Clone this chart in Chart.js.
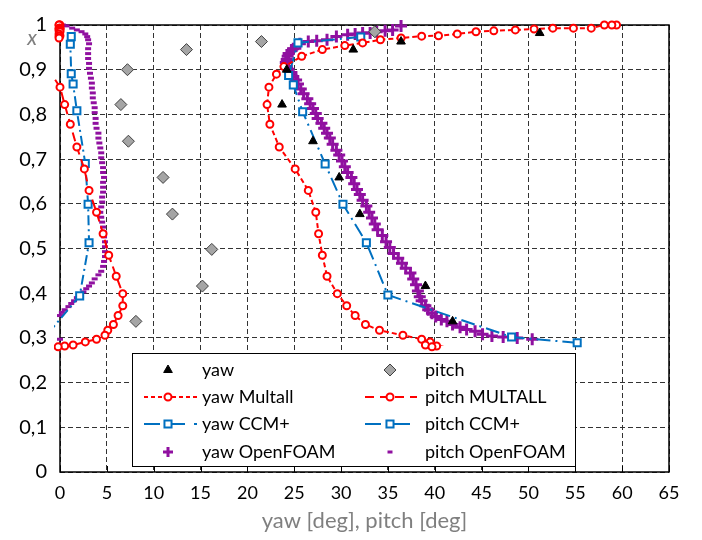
<!DOCTYPE html>
<html>
<head>
<meta charset="utf-8">
<script src="https://cdn.jsdelivr.net/npm/chart.js@4.4.1/dist/chart.umd.min.js"></script>
<style>
  html, body { margin: 0; padding: 0; background: #fff; }
  canvas { display: block; }
</style>
</head>
<body>
<canvas id="profileChart" width="702" height="540"></canvas>
<script>
// Measured angles (deg) against spanwise position x
const yawExpDeg = [51.2, 36.4, 31.3, 24.2, 23.7, 27.0, 29.8, 32.0, 39.0, 41.9];
const yawExpX   = [0.982, 0.963, 0.945, 0.900, 0.822, 0.740, 0.659, 0.577, 0.416, 0.337];

const pitchExpDeg = [33.6, 21.5, 13.5, 7.2, 6.5, 7.3, 11.0, 12.0, 16.2, 15.2, 8.1];
const pitchExpX   = [0.985, 0.963, 0.945, 0.900, 0.822, 0.740, 0.659, 0.577, 0.498, 0.416, 0.337];

// Multall profiles
const multallX = [1.0, 1.0, 1.0, 0.993, 0.993, 0.993, 0.991, 0.989, 0.987, 0.985, 0.980, 0.976,
                  0.975, 0.971, 0.967, 0.960, 0.954, 0.945, 0.930, 0.907, 0.890, 0.861, 0.822,
                  0.778, 0.727, 0.678, 0.630, 0.581, 0.533, 0.485, 0.438, 0.399, 0.372, 0.350,
                  0.330, 0.317, 0.306, 0.297, 0.291, 0.284, 0.282, 0.280];
const yawMultall = [59.4, 58.9, 58.1, 56.7, 54.8, 52.6, 50.6, 48.6, 46.3, 44.4, 42.4, 40.4,
                    38.6, 36.4, 34.2, 32.3, 30.4, 28.0, 25.8, 23.9, 23.1, 22.3, 22.1,
                    22.4, 23.4, 25.1, 26.5, 27.3, 27.6, 28.0, 28.5, 29.6, 30.6, 31.5,
                    32.6, 34.1, 36.6, 38.6, 39.5, 39.0, 40.2, 39.7];
const pitchMultall = [-0.1, 0.0, -0.1, 0.0, -0.1, 0.0, -0.1, 0.0, -0.1, 0.0, -0.1, 0.0,
                      -0.1, -0.1, -0.9, -1.2, -1.3, -1.4, -1.2, -1.0, -0.9, 0.0, 0.5,
                      1.1, 1.8, 2.6, 3.1, 3.9, 4.6, 5.2, 6.0, 6.7, 6.7, 6.2,
                      5.7, 5.1, 4.8, 3.9, 2.7, 1.4, 0.5, -0.2];

// CCM+ profiles
const ccmYawX   = [0.973, 0.960, 0.887, 0.866, 0.806, 0.689, 0.599, 0.513, 0.396, 0.302, 0.289];
const ccmYaw    = [32.1, 25.4, 24.4, 24.9, 25.9, 28.3, 30.2, 32.7, 35.0, 48.2, 55.2];
const ccmPitchX = [0.974, 0.957, 0.891, 0.868, 0.808, 0.690, 0.599, 0.513, 0.394, 0.302, 0.289];
const ccmPitch  = [1.2, 1.1, 1.2, 1.4, 1.8, 2.7, 3.0, 3.1, 2.1, -1.6, -2.2];

// OpenFOAM yaw profile
const ofYawX = [0.998, 0.989, 0.987, 0.985, 0.982, 0.982, 0.980, 0.978, 0.974, 0.967, 0.965, 0.963,
                0.958, 0.954, 0.947, 0.943, 0.936, 0.930, 0.923, 0.916, 0.907, 0.901, 0.894, 0.885,
                0.877, 0.868, 0.857, 0.846, 0.835, 0.824, 0.813, 0.802, 0.791, 0.780, 0.769, 0.758,
                0.747, 0.733, 0.720, 0.709, 0.696, 0.683, 0.670, 0.659, 0.645, 0.632, 0.621, 0.608,
                0.595, 0.581, 0.568, 0.555, 0.542, 0.529, 0.515, 0.502, 0.489, 0.478, 0.467, 0.456,
                0.445, 0.432, 0.419, 0.405, 0.392, 0.383, 0.372, 0.363, 0.355, 0.348, 0.341, 0.337,
                0.330, 0.324, 0.319, 0.315, 0.308, 0.304, 0.302, 0.300, 0.297];
const ofYaw  = [36.4, 35.5, 34.7, 33.8, 33.1, 32.3, 31.5, 30.7, 29.5, 28.5, 27.4, 26.5,
                25.6, 25.2, 24.9, 24.7, 24.4, 24.3, 24.2, 24.1, 24.2, 24.4, 24.7, 24.9,
                25.2, 25.4, 25.7, 26.0, 26.4, 26.7, 27.0, 27.3, 27.5, 27.9, 28.2, 28.5,
                28.8, 29.1, 29.5, 29.8, 30.1, 30.4, 30.7, 31.1, 31.4, 31.7, 32.0, 32.3,
                32.7, 33.0, 33.3, 33.6, 33.9, 34.4, 34.8, 35.2, 35.6, 36.1, 36.5, 36.9,
                37.4, 37.7, 38.0, 38.2, 38.4, 38.6, 39.0, 39.3, 39.7, 40.1, 40.7, 41.3,
                41.9, 42.7, 43.4, 44.3, 45.1, 46.1, 47.3, 48.8, 50.4];

// OpenFOAM pitch profile
const ofPitchX = [1.0, 0.998, 0.993, 0.989, 0.985, 0.980, 0.974, 0.967, 0.958, 0.947, 0.936, 0.925,
                  0.914, 0.903, 0.892, 0.881, 0.870, 0.859, 0.848, 0.837, 0.826, 0.815, 0.804, 0.791,
                  0.780, 0.769, 0.758, 0.747, 0.736, 0.725, 0.714, 0.703, 0.692, 0.681, 0.670, 0.659,
                  0.648, 0.637, 0.626, 0.615, 0.604, 0.593, 0.581, 0.570, 0.559, 0.548, 0.537, 0.526,
                  0.515, 0.504, 0.493, 0.482, 0.471, 0.460, 0.449, 0.441, 0.432, 0.423, 0.416, 0.410,
                  0.403, 0.396, 0.390, 0.383, 0.377, 0.370, 0.363, 0.357, 0.350, 0.297];
const ofPitch  = [0.3, 0.7, 1.3, 1.8, 2.3, 2.7, 2.9, 3.0, 3.1, 3.0, 3.0, 3.0,
                  3.1, 3.1, 3.2, 3.3, 3.4, 3.4, 3.5, 3.5, 3.6, 3.7, 3.7, 3.8,
                  3.8, 3.9, 4.1, 4.1, 4.2, 4.3, 4.4, 4.4, 4.5, 4.6, 4.6, 4.7,
                  4.6, 4.6, 4.6, 4.5, 4.5, 4.4, 4.3, 4.4, 4.5, 4.6, 4.7, 4.7,
                  4.8, 4.8, 4.8, 4.8, 4.7, 4.6, 4.4, 4.1, 3.7, 3.4, 3.1, 2.8,
                  2.5, 2.1, 1.8, 1.5, 1.2, 0.9, 0.5, 0.2, 0.0, 0.0];

const xTicks = { min: 0, max: 65, step: 5 };
const yTicks = { min: 0, max: 1, step: 0.1 };

const RED = '#ff0000';
const BLUE = '#0070c0';
const PURPLE = '#9010a0';
const FONT = 'Lato, "Open Sans", sans-serif';

function pts(xs, ys) {
    return xs.map((v, i) => ({ x: v, y: ys[i] }));
}

const datasets = [
    {
        label: 'yaw',
        data: pts(yawExpDeg, yawExpX),
        pointStyle: 'triangle', pointRadius: 5,
        backgroundColor: '#000', borderColor: '#000', borderWidth: 1,
        legendCol: 0, legendRow: 0
    },
    {
        label: 'pitch',
        data: pts(pitchExpDeg, pitchExpX),
        pointStyle: 'rectRot', pointRadius: 6,
        backgroundColor: '#a5a5a5', borderColor: '#404040', borderWidth: 1,
        legendCol: 1, legendRow: 0
    },
    {
        label: 'yaw Multall',
        data: pts(yawMultall, multallX),
        showLine: true, borderDash: [5, 3],
        pointStyle: 'circle', pointRadius: 3.5,
        backgroundColor: '#fff', borderColor: RED, borderWidth: 2,
        legendDash: [4, 3], legendCol: 0, legendRow: 1
    },
    {
        label: 'pitch MULTALL',
        data: pts(pitchMultall, multallX),
        showLine: true, borderDash: [9, 5],
        pointStyle: 'circle', pointRadius: 3.5,
        backgroundColor: '#fff', borderColor: RED, borderWidth: 2,
        legendDash: [9, 6], legendCol: 1, legendRow: 1
    },
    {
        label: 'yaw CCM+',
        data: pts(ccmYaw, ccmYawX),
        showLine: true, borderDash: [14, 5, 2, 5],
        pointStyle: 'rect', pointRadius: 5,
        backgroundColor: '#fff', borderColor: BLUE, borderWidth: 2,
        legendDash: [16, 9], legendCol: 0, legendRow: 2
    },
    {
        label: 'pitch CCM+',
        data: pts(ccmPitch, ccmPitchX),
        showLine: true, borderDash: [10, 4, 2, 4],
        pointStyle: 'rect', pointRadius: 5,
        backgroundColor: '#fff', borderColor: BLUE, borderWidth: 2,
        legendDash: [16, 7, 2, 4], legendCol: 1, legendRow: 2
    },
    {
        label: 'yaw OpenFOAM',
        data: pts(ofYaw, ofYawX),
        pointStyle: 'cross', pointRadius: 6,
        backgroundColor: PURPLE, borderColor: PURPLE, borderWidth: 3,
        legendCol: 0, legendRow: 3
    },
    {
        label: 'pitch OpenFOAM',
        data: pts(ofPitch, ofPitchX),
        pointStyle: 'line', pointRadius: 3,
        backgroundColor: PURPLE, borderColor: PURPLE, borderWidth: 3,
        legendCol: 1, legendRow: 3
    }
];
// markers may spill a few pixels past the frame, values further out stay hidden
datasets.forEach(ds => {
    ds.clip = { left: 6, top: 8, right: 8, bottom: 8 };
    ds.pointHoverRadius = ds.pointRadius;
});

function tickText(v) {
    if (Math.abs(v) < 1e-9) return '0';
    if (Math.abs(v - 1) < 1e-9) return '1';
    return v.toFixed(1).replace('.', ',');
}

// frame, axis titles, in-plot legend and bottom tick marks
const decor = {
    id: 'decor',
    beforeDatasetsDraw(chart) {
        const { ctx, chartArea: a } = chart;
        ctx.save();
        ctx.strokeStyle = '#000';
        ctx.lineWidth = 1.5;
        ctx.strokeRect(a.left, a.top, a.right - a.left, a.bottom - a.top);
        ctx.restore();
    },
    afterDraw(chart) {
        const { ctx, chartArea: a, scales } = chart;
        ctx.save();

        // axis titles
        ctx.fillStyle = '#7f7f7f';
        ctx.font = '22px ' + FONT;
        ctx.textAlign = 'center';
        ctx.textBaseline = 'middle';
        ctx.fillText('yaw [deg], pitch [deg]', (a.left + a.right) / 2, 521);
        ctx.font = 'italic 21px ' + FONT;
        ctx.fillText('x', 32, 38);

        // legend box
        const box = { l: 132, t: 353, r: 575, b: 466 };
        ctx.fillStyle = '#fff';
        ctx.fillRect(box.l, box.t, box.r - box.l, box.b - box.t);
        ctx.strokeStyle = '#000';
        ctx.lineWidth = 1;
        ctx.strokeRect(box.l + 0.5, box.t + 0.5, box.r - box.l, box.b - box.t);

        const rows = [370, 397, 424, 452];
        const cols = [{ l: 144, m: 168, r: 197, t: 202 }, { l: 365, m: 390, r: 417, t: 425 }];
        chart.data.datasets.forEach(ds => {
            const c = cols[ds.legendCol];
            const y = rows[ds.legendRow];
            if (ds.showLine) {
                ctx.save();
                ctx.strokeStyle = ds.borderColor;
                ctx.lineWidth = ds.borderWidth;
                ctx.setLineDash(ds.legendDash);
                ctx.beginPath();
                ctx.moveTo(c.l, y);
                ctx.lineTo(c.r, y);
                ctx.stroke();
                ctx.restore();
            }
            ctx.save();
            ctx.fillStyle = ds.backgroundColor;
            ctx.strokeStyle = ds.borderColor;
            ctx.lineWidth = ds.borderWidth;
            const r = ds.pointStyle === 'cross' ? 5 : (ds.pointStyle === 'line' ? 2.5 : ds.pointRadius);
            Chart.helpers.drawPoint(ctx, { pointStyle: ds.pointStyle, radius: r, rotation: 0, borderWidth: ds.borderWidth }, c.m, y);
            ctx.restore();

            ctx.fillStyle = '#000';
            ctx.font = '18px ' + FONT;
            ctx.textAlign = 'left';
            ctx.textBaseline = 'middle';
            ctx.fillText(ds.label, c.t, y);
        });

        // inner tick marks on the bottom axis
        ctx.strokeStyle = '#000';
        ctx.lineWidth = 1;
        for (let v = xTicks.min; v <= xTicks.max; v += xTicks.step) {
            const px = Math.round(scales.x.getPixelForValue(v)) + 0.5;
            ctx.beginPath();
            ctx.moveTo(px, a.bottom);
            ctx.lineTo(px, a.bottom - 6);
            ctx.stroke();
        }
        ctx.restore();
    }
};

const ctx = document.getElementById('profileChart').getContext('2d');
const chart = new Chart(ctx, {
    type: 'scatter',
    data: { datasets: datasets },
    plugins: [decor],
    options: {
        responsive: false,
        animation: false,
        layout: { padding: { top: 18, right: 33, left: 0, bottom: 0 } },
        plugins: {
            legend: { display: false },
            tooltip: { enabled: false }
        },
        scales: {
            x: {
                type: 'linear',
                min: xTicks.min, max: xTicks.max,
                ticks: { stepSize: xTicks.step, color: '#000', padding: 10, font: { family: FONT, size: 18 } },
                grid: { color: '#333', lineWidth: 1, drawTicks: false },
                border: { display: false, dash: [5, 3] },
                afterFit(scale) { scale.height = 68; }
            },
            y: {
                type: 'linear',
                min: yTicks.min, max: yTicks.max,
                ticks: { stepSize: yTicks.step, color: '#000', padding: 13, font: { family: FONT, size: 20 }, callback: tickText },
                grid: { color: '#333', lineWidth: 1, drawTicks: false },
                border: { display: false, dash: [5, 3] },
                afterFit(scale) { scale.width = 60; }
            }
        }
    }
});
</script>
</body>
</html>
